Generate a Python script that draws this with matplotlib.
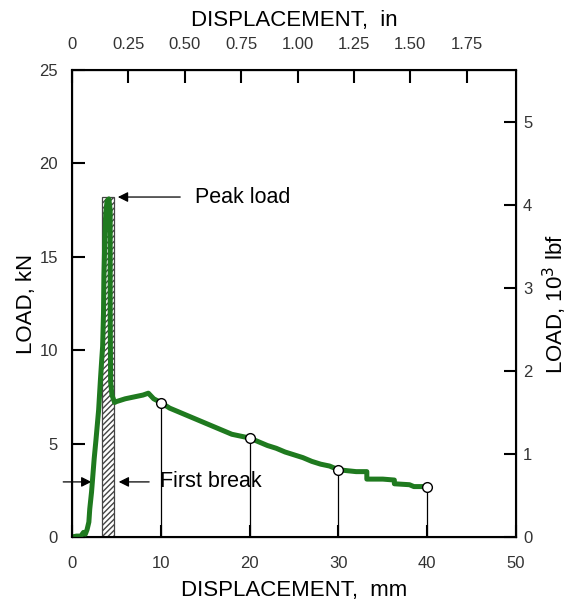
import matplotlib
matplotlib.use("Agg")
import matplotlib.pyplot as plt
from matplotlib.patches import Rectangle

plt.rcParams['font.family'] = ['Liberation Sans', 'DejaVu Sans']
plt.rcParams['path.simplify'] = False

# Load-displacement curve (mm, kN)
disp_mm = [0.0, 0.5, 1.0, 1.3, 1.5, 1.7, 1.9, 2.0, 2.2, 2.3, 2.5, 2.7, 2.85, 3.0, 3.1, 3.2,
           3.35, 3.45, 3.55, 3.6, 3.7, 3.8, 3.95, 4.15, 4.3, 4.3, 4.35, 4.5, 4.8, 5.0, 6.0,
           7.0, 8.0, 8.6, 9.2, 10.0, 11.0, 12.0, 13.0, 14.0, 15.0, 16.0, 17.0, 18.0, 19.0,
           20.0, 21.0, 22.0, 23.0, 24.0, 25.0, 26.0, 27.0, 28.0, 29.0, 30.0, 31.0, 32.0,
           33.2, 33.2, 35.0, 36.3, 36.3, 38.0, 38.5, 40.0]
load_kn = [0.0, 0.05, 0.05, 0.25, 0.15, 0.4, 0.8, 1.5, 2.4, 3.0, 4.2, 5.2, 6.0, 6.8, 7.6, 8.4,
           9.5, 10.2, 12.0, 14.0, 16.0, 17.3, 18.0, 18.1, 17.5, 12.0, 8.3, 7.6, 7.2, 7.25, 7.4,
           7.5, 7.6, 7.7, 7.4, 7.2, 6.9, 6.7, 6.5, 6.3, 6.1, 5.9, 5.7, 5.5, 5.4,
           5.3, 5.1, 4.9, 4.75, 4.55, 4.4, 4.25, 4.05, 3.9, 3.8, 3.6, 3.55, 3.5,
           3.5, 3.1, 3.1, 3.05, 2.85, 2.8, 2.7, 2.7]

# Marked points
mark_mm = [10, 20, 30, 40]
mark_kn = [7.2, 5.3, 3.6, 2.7]

# Hatched energy zone
zone_x0, zone_x1 = 3.35, 4.75
peak_kn = 18.2
first_break_kn = 2.95

MM_PER_IN = 25.4
KN_PER_KLBF = 4.448222

fig = plt.figure(figsize=(5.7, 6.04), dpi=100)
ax = fig.add_axes([0.1263, 0.1109, 0.7790, 0.7732])
ax.set_xlim(0, 50)
ax.set_ylim(0, 25)

ax.add_patch(Rectangle((zone_x0, 0), zone_x1 - zone_x0, peak_kn, facecolor='white',
                       edgecolor='#444444', hatch='//////', linewidth=0.9, zorder=2))

for xm, ym in zip(mark_mm, mark_kn):
    ax.plot([xm, xm], [0, ym], color='black', linewidth=0.9, zorder=3)

ax.plot(disp_mm, load_kn, color='#1f7a1f', linewidth=3.6, zorder=4,
        solid_joinstyle='round', solid_capstyle='round')
ax.plot(mark_mm, mark_kn, linestyle='none', marker='o', markersize=7,
        markerfacecolor='white', markeredgecolor='black', markeredgewidth=1.0, zorder=5)

arrow = dict(arrowstyle='-|>', color='black', lw=0.9, mutation_scale=15)
ax.annotate('', xy=(zone_x1 + 0.1, peak_kn), xytext=(12.5, peak_kn), arrowprops=arrow)
ax.text(13.9, peak_kn, 'Peak load', fontsize=15.5, va='center', ha='left')
ax.annotate('', xy=(zone_x1 + 0.2, first_break_kn), xytext=(9.0, first_break_kn), arrowprops=arrow)
ax.text(9.9, first_break_kn, 'First break', fontsize=15.5, va='center', ha='left')
ax.annotate('', xy=(2.5, first_break_kn), xytext=(-1.3, first_break_kn), arrowprops=arrow,
            annotation_clip=False)

tick_color = '#333333'
ax.set_xticks([0, 10, 20, 30, 40, 50])
ax.set_yticks([0, 5, 10, 15, 20, 25])
ax.tick_params(axis='both', direction='in', length=9, width=1.5, labelsize=12,
               labelcolor=tick_color)
ax.tick_params(axis='x', pad=14)
ax.tick_params(axis='y', pad=10)
ax.set_xlabel('DISPLACEMENT,  mm', fontsize=16, labelpad=6)
ax.set_ylabel('LOAD, kN', fontsize=16, labelpad=2)
for s in ax.spines.values():
    s.set_linewidth(1.5)

# top axis in inches
axt = ax.twiny()
axt.set_xlim(0, 50 / MM_PER_IN)
axt.set_xticks([0, 0.25, 0.5, 0.75, 1.0, 1.25, 1.5, 1.75])
axt.tick_params(axis='x', direction='in', length=9, width=1.5, labelsize=12,
                labelcolor=tick_color, pad=13)
axt.set_xticklabels(['0', '0.25', '0.50', '0.75', '1.00', '1.25', '1.50', '1.75'])
axt.set_xlabel('DISPLACEMENT,  in', fontsize=16, labelpad=8)

# right axis in 10^3 lbf
axr = ax.twinx()
axr.set_ylim(0, 25 / KN_PER_KLBF)
axr.set_yticks([0, 1, 2, 3, 4, 5])
axr.tick_params(axis='y', direction='in', length=9, width=1.5, labelsize=12,
                labelcolor=tick_color, pad=5)
axr.set_ylabel('LOAD, 10$^3$ lbf', fontsize=16, labelpad=6)

fig.savefig('out.png', dpi=100)
